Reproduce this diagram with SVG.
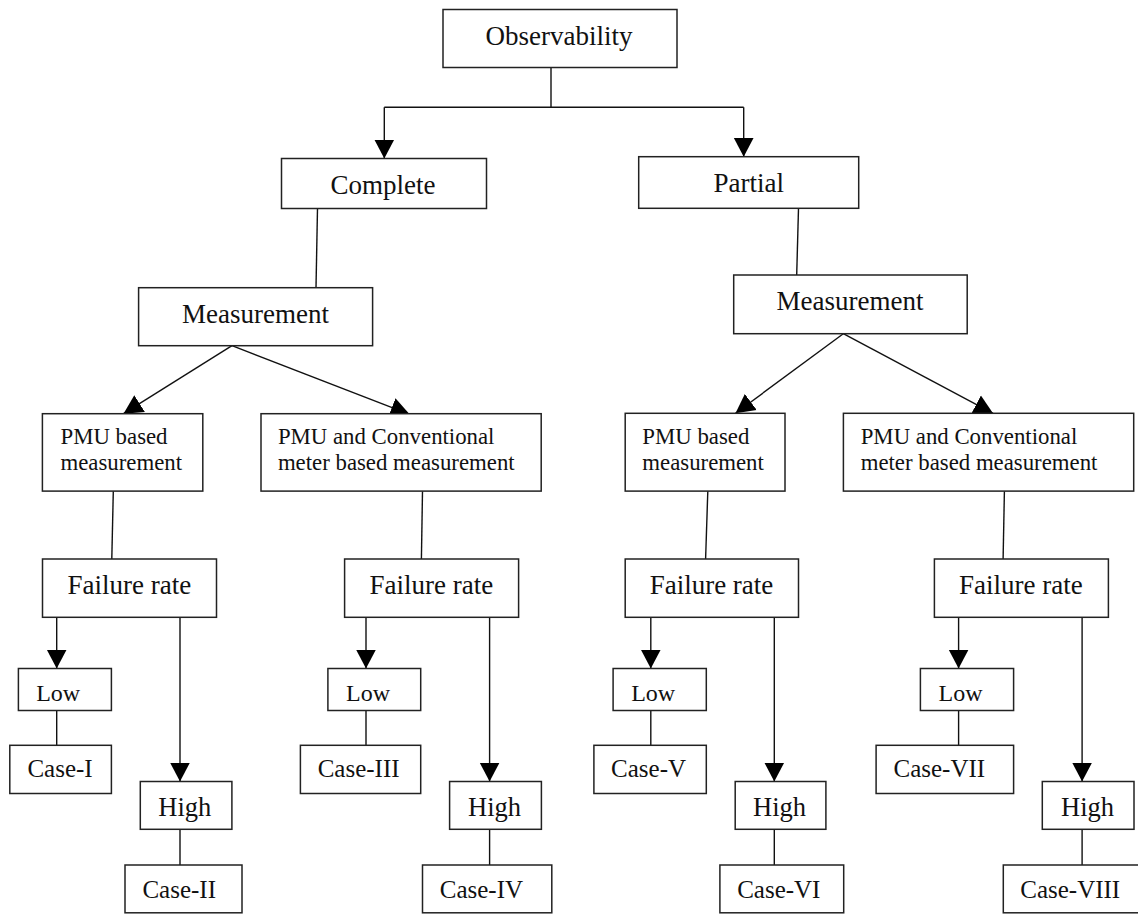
<svg xmlns="http://www.w3.org/2000/svg" width="1138" height="914" viewBox="0 0 1138 914">
<style>
rect{fill:#fff;stroke:#222;stroke-width:1.5}
text{font-family:"Liberation Serif","Times New Roman",serif;fill:#111;text-anchor:middle}
.m{font-size:27px}
.s{font-size:22.8px;text-anchor:start}
.c{font-size:25px}
.l{font-size:24px}
.h{font-size:26.5px}
.ln{stroke:#111;stroke-width:1.4;fill:none}
.ar{marker-end:url(#ah)}
</style>
<defs>
<marker id="ah" markerUnits="userSpaceOnUse" markerWidth="21" markerHeight="21" refX="19" refY="10.5" orient="auto" viewBox="0 0 21 21">
<path d="M0,0.5 L19,10.5 L0,20.5 z" fill="#000"/>
</marker>
</defs>
<g id="connectors">
<polyline class="ln" points="551,67.7 551,107.3"/>
<polyline class="ln" points="384.3,107.3 743.7,107.3"/>
<line class="ln ar" x1="384.3" y1="107.3" x2="384.3" y2="158.5"/>
<line class="ln ar" x1="743.7" y1="107.3" x2="743.7" y2="156.7"/>
<line class="ln" x1="317.5" y1="208.3" x2="316" y2="287.7"/>
<line class="ln" x1="798.5" y1="208.3" x2="796.7" y2="275"/>
<line class="ln ar" x1="232" y1="345.7" x2="123.5" y2="413.7"/>
<line class="ln ar" x1="232" y1="345.7" x2="409.6" y2="414.3"/>
<line class="ln ar" x1="843.3" y1="333.7" x2="735.5" y2="413.3"/>
<line class="ln ar" x1="843.3" y1="333.7" x2="993" y2="413.3"/>
<line class="ln" x1="113.3" y1="491.3" x2="111.8" y2="559"/>
<line class="ln" x1="422.5" y1="491.3" x2="421.4" y2="559"/>
<line class="ln" x1="707.8" y1="491.3" x2="705.6" y2="559"/>
<line class="ln" x1="1004.4" y1="491.3" x2="1003.1" y2="559"/>
<line class="ln ar" x1="56.7" y1="617.3" x2="56.7" y2="668.5"/>
<line class="ln ar" x1="180" y1="617.3" x2="180" y2="781.5"/>
<line class="ln" x1="56.7" y1="710.5" x2="56.7" y2="745.3"/>
<line class="ln" x1="180" y1="829.3" x2="180" y2="865"/>
<line class="ln ar" x1="366" y1="617.3" x2="366" y2="668.5"/>
<line class="ln ar" x1="489.6" y1="617.3" x2="489.6" y2="781.5"/>
<line class="ln" x1="366" y1="710.5" x2="366" y2="745.3"/>
<line class="ln" x1="489.6" y1="829.3" x2="489.6" y2="865"/>
<line class="ln ar" x1="650.8" y1="617.3" x2="650.8" y2="668.5"/>
<line class="ln ar" x1="774.3" y1="617.3" x2="774.3" y2="781.5"/>
<line class="ln" x1="650.8" y1="710.5" x2="650.8" y2="745.3"/>
<line class="ln" x1="774.3" y1="829.3" x2="774.3" y2="865"/>
<line class="ln ar" x1="958.6" y1="617.3" x2="958.6" y2="668.5"/>
<line class="ln ar" x1="1082.1" y1="617.3" x2="1082.1" y2="781.5"/>
<line class="ln" x1="958.6" y1="710.5" x2="958.6" y2="745.3"/>
<line class="ln" x1="1082.1" y1="829.3" x2="1082.1" y2="865"/>
</g>
<g id="observability"><rect x="443" y="9.5" width="234" height="58"/><text class="m" x="559" y="45">Observability</text></g>
<g id="complete"><rect x="281.5" y="158.5" width="205" height="50"/><text class="m" x="383" y="194">Complete</text></g>
<g id="partial"><rect x="638.7" y="156.7" width="220" height="51.6"/><text class="m" x="748.7" y="191.7">Partial</text></g>
<g id="measurement-left"><rect x="138.6" y="287.7" width="234" height="58"/><text class="m" x="255.6" y="322.7">Measurement</text></g>
<g id="measurement-right"><rect x="733.7" y="275" width="233.5" height="58.7"/><text class="m" x="850" y="310">Measurement</text></g>
<g id="pmu-left"><rect x="42.4" y="413.7" width="160.4" height="77.4"/><text class="s" x="60.5" y="444">PMU based</text><text class="s" x="60.5" y="470">measurement</text></g>
<g id="pmuconv-left"><rect x="261" y="413.7" width="280.2" height="77.4"/><text class="s" x="277.9" y="444">PMU and Conventional</text><text class="s" x="277.9" y="470">meter based measurement</text></g>
<g id="pmu-right"><rect x="625.2" y="413.3" width="159.8" height="77.8"/><text class="s" x="642.3" y="444">PMU based</text><text class="s" x="642.3" y="470">measurement</text></g>
<g id="pmuconv-right"><rect x="843.4" y="413.3" width="290.3" height="77.8"/><text class="s" x="860.7" y="444">PMU and Conventional</text><text class="s" x="860.7" y="470">meter based measurement</text></g>
<g id="failure-1"><rect x="42.5" y="559" width="174" height="58.3"/><text class="m" x="129.3" y="594">Failure rate</text></g>
<g id="failure-2"><rect x="344.6" y="559" width="174" height="58.3"/><text class="m" x="431.4" y="594">Failure rate</text></g>
<g id="failure-3"><rect x="625.2" y="559" width="173.3" height="58.3"/><text class="m" x="711.5" y="594">Failure rate</text></g>
<g id="failure-4"><rect x="934.4" y="559" width="174" height="58.3"/><text class="m" x="1020.8" y="594">Failure rate</text></g>
<g id="low-1"><rect x="18.4" y="668.5" width="93" height="42"/><text class="l" x="58.2" y="700.7">Low</text></g>
<g id="low-2"><rect x="327.9" y="668.5" width="92.8" height="42"/><text class="l" x="368" y="700.7">Low</text></g>
<g id="low-3"><rect x="613.1" y="668.5" width="93.2" height="42"/><text class="l" x="653.2" y="700.7">Low</text></g>
<g id="low-4"><rect x="920.4" y="668.5" width="93.2" height="42"/><text class="l" x="960.6" y="700.7">Low</text></g>
<g id="case-1"><rect x="9.8" y="745.3" width="101.6" height="48.2"/><text class="c" x="60" y="777">Case-I</text></g>
<g id="case-3"><rect x="300.4" y="745.3" width="120.3" height="48.2"/><text class="c" x="358.6" y="777">Case-III</text></g>
<g id="case-5"><rect x="593.9" y="745.3" width="112.4" height="48.2"/><text class="c" x="648.6" y="777">Case-V</text></g>
<g id="case-7"><rect x="876.1" y="745.3" width="137.5" height="48.2"/><text class="c" x="939.3" y="777">Case-VII</text></g>
<g id="high-1"><rect x="140.3" y="781.5" width="91.6" height="47.8"/><text class="h" x="184.8" y="816">High</text></g>
<g id="high-2"><rect x="449.6" y="781.5" width="91.8" height="47.8"/><text class="h" x="494.6" y="816">High</text></g>
<g id="high-3"><rect x="735.2" y="781.5" width="90.7" height="47.8"/><text class="h" x="779.5" y="816">High</text></g>
<g id="high-4"><rect x="1042.3" y="781.5" width="91.7" height="47.8"/><text class="h" x="1087.5" y="816">High</text></g>
<g id="case-2"><rect x="125" y="865" width="117" height="47.8"/><text class="c" x="179.2" y="898">Case-II</text></g>
<g id="case-4"><rect x="422.5" y="865" width="129.3" height="47.8"/><text class="c" x="481.4" y="898">Case-IV</text></g>
<g id="case-6"><rect x="719.9" y="865" width="123.8" height="47.8"/><text class="c" x="778.8" y="898">Case-VI</text></g>
<g id="case-8"><rect x="1003.3" y="865" width="140" height="47.8"/><text class="c" x="1070.2" y="898">Case-VIII</text></g>
</svg>
